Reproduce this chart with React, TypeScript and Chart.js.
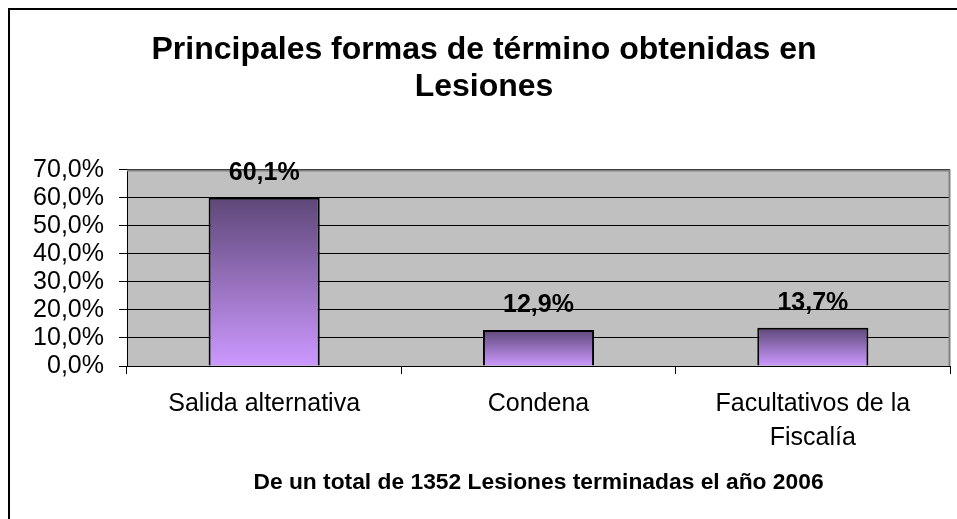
import { useEffect, useRef } from 'react';
import { Chart, registerables } from 'chart.js';

Chart.register(...registerables);

const categories: (string | string[])[] = ['Salida alternativa', 'Condena', ['Facultativos de la', 'Fiscalía']];
const values: number[] = [60.1, 12.9, 13.7];
const yMin = 0;
const yMax = 70;
const yStep = 10;
const titleLines: string[] = ['Principales formas de término obtenidas en', 'Lesiones'];
const xAxisTitle = 'De un total de 1352 Lesiones terminadas el año 2006';

const FONT = "'Liberation Sans', Arial, Helvetica, sans-serif";
const fmt = (v: number) => v.toFixed(1).replace('.', ',') + '%';

const framePlugin = {
  id: 'framePlugin',
  beforeDraw(chart: any) {
    const { ctx, chartArea: a } = chart;
    ctx.save();
    ctx.fillStyle = '#ffffff';
    ctx.fillRect(0, 0, chart.width, chart.height);
    ctx.fillStyle = '#C0C0C0';
    ctx.fillRect(a.left, a.top, a.right - a.left, a.bottom - a.top);
    ctx.restore();
  },
  beforeDatasetsDraw(chart: any) {
    const { ctx, chartArea: a } = chart;
    ctx.save();
    ctx.strokeStyle = '#808080';
    ctx.lineWidth = 2;
    ctx.beginPath();
    ctx.moveTo(a.left, a.top + 0.5);
    ctx.lineTo(a.right - 0.5, a.top + 0.5);
    ctx.lineTo(a.right - 0.5, a.bottom);
    ctx.stroke();
    ctx.restore();
  },
  afterDatasetsDraw(chart: any) {
    const { ctx } = chart;
    const meta = chart.getDatasetMeta(0);
    ctx.save();
    ctx.fillStyle = '#000';
    ctx.font = `bold 25px ${FONT}`;
    ctx.textAlign = 'center';
    ctx.textBaseline = 'alphabetic';
    meta.data.forEach((el: any, i: number) => {
      ctx.fillText(fmt(values[i]), el.x, el.y - 18);
    });
    ctx.restore();
  },
  afterDraw(chart: any) {
    const { ctx } = chart;
    ctx.save();
    ctx.strokeStyle = '#000';
    ctx.lineWidth = 2;
    ctx.strokeRect(9, 9, 3000, 3000);
    ctx.restore();
  },
};

export default function App() {
  const ref = useRef<HTMLCanvasElement | null>(null);

  useEffect(() => {
    if (!ref.current) return;
    const chart = new Chart(ref.current, {
      type: 'bar',
      data: {
        labels: categories as any,
        datasets: [
          {
            data: values,
            borderColor: '#000',
            borderWidth: 2,
            barPercentage: 0.405,
            categoryPercentage: 1,
            backgroundColor: (c: any) => {
              const ch = c.chart;
              if (!ch.chartArea || c.type !== 'data' || !ch.scales.y) return '#9977CC';
              const ys = ch.scales.y;
              const top = ys.getPixelForValue(c.raw as number);
              const bottom = ys.getPixelForValue(0);
              if (!isFinite(top) || !isFinite(bottom) || top === bottom) return '#9977CC';
              const g = ch.ctx.createLinearGradient(0, top, 0, bottom);
              g.addColorStop(0, '#5E4778');
              g.addColorStop(1, '#CC99FF');
              return g;
            },
          },
        ],
      },
      options: {
        animation: false,
        responsive: false,
        maintainAspectRatio: false,
        layout: { padding: { left: 18, right: 7, top: 0, bottom: 22.8 } },
        plugins: {
          legend: { display: false },
          tooltip: { enabled: false },
          title: {
            display: true,
            text: titleLines,
            color: '#000',
            font: { family: FONT, size: 32, weight: 'bold', lineHeight: 1.156 },
            padding: { top: 31.5, bottom: 64.5 },
          },
        },
        scales: {
          x: {
            offset: true,
            grid: { offset: true, drawOnChartArea: false, drawTicks: true, tickLength: 8, color: '#000' },
            border: { color: '#000', width: 1 },
            ticks: {
              color: '#000',
              font: { family: FONT, size: 25, lineHeight: 1.37 },
              padding: 13,
              maxRotation: 0,
              autoSkip: false,
            },
            title: {
              display: true,
              text: xAxisTitle,
              color: '#000',
              font: { family: FONT, size: 22.8, weight: 'bold', lineHeight: 1.2 },
              padding: { top: 0.34, bottom: 0 },
            },
          },
          y: {
            min: yMin,
            max: yMax,
            ticks: {
              stepSize: yStep,
              autoSkip: false,
              callback: (v: any) => fmt(Number(v)),
              color: '#000',
              font: { family: FONT, size: 25 },
              padding: 15,
            },
            grid: { color: '#000', tickLength: 8, lineWidth: 1 },
            border: { color: '#000', width: 1 },
            afterFit: (s: any) => {
              s.width = 109;
            },
          },
        },
      },
      plugins: [framePlugin],
    } as any);
    return () => chart.destroy();
  }, []);

  return (
    <canvas
      ref={ref}
      width={957}
      height={519}
      style={{ position: 'absolute', left: 0, top: 0, display: 'block' }}
    />
  );
}
